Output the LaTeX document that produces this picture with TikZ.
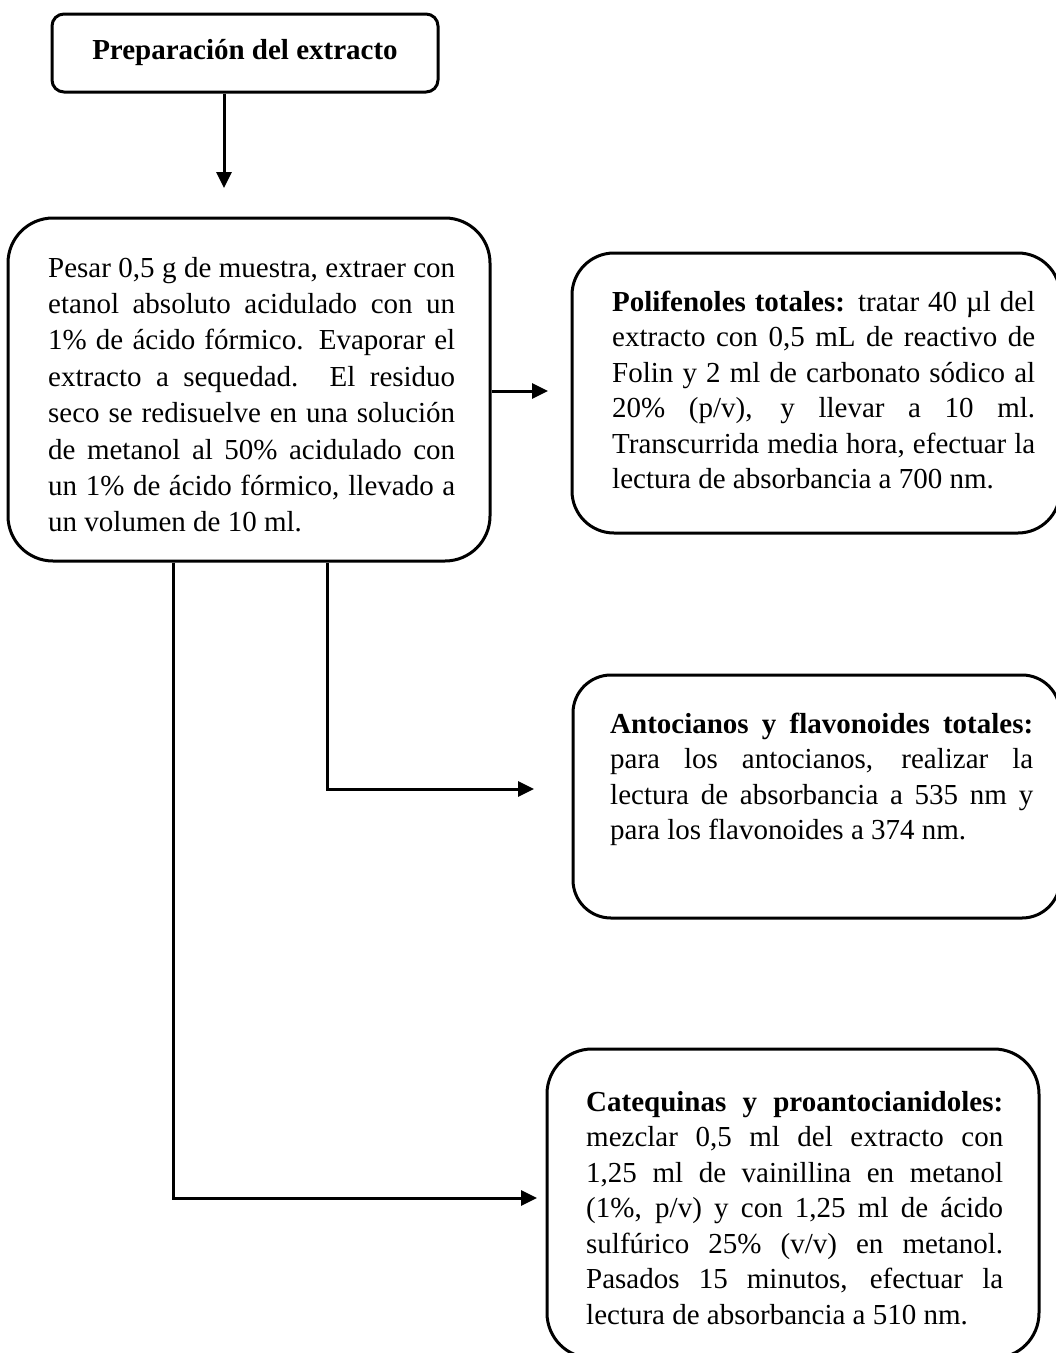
\documentclass[tikz,border=0pt]{standalone}
\usepackage{fontspec}
\setmainfont{Liberation Serif}
\usetikzlibrary{arrows.meta}
\begin{document}
\begin{tikzpicture}[x=1pt,y=-1pt,
  box/.style={draw, line width=3pt, inner sep=0pt},
  txt/.style={inner sep=0pt, align=justify, anchor=base west, font=\fontsize{29}{35.5}\selectfont},
  arr/.style={line width=3pt, -{Triangle[length=16pt,width=15pt]}}]
\useasboundingbox (0,0) rectangle (1056,1353);

% boxes
\node[box, rounded corners=12pt, minimum width=386pt, minimum height=78pt,
      font=\fontsize{29}{35.5}\selectfont\bfseries] (top) at (245,53) {Preparación del extracto};
\node[box, rounded corners=45pt, minimum width=482pt, minimum height=343pt] (main) at (249,389.5) {};
\node[box, rounded corners=42pt, minimum width=488pt, minimum height=280pt] (poli) at (816,393) {};
\node[box, rounded corners=38pt, minimum width=487pt, minimum height=243pt] (anto) at (816.5,796.5) {};
\node[box, rounded corners=45pt, minimum width=492pt, minimum height=309pt] (cate) at (793,1203.5) {};

% texts
\node[txt, text width=407pt, font=\fontsize{29}{36.4}\selectfont] (tmain) at (48,277) {Pesar 0,5 g de muestra, extraer con\linebreak
etanol absoluto acidulado con un\linebreak
1\% de ácido fórmico. Evaporar el\linebreak
extracto a sequedad. El residuo\linebreak
seco se redisuelve en una solución\linebreak
de metanol al 50\% acidulado con\linebreak
un 1\% de ácido fórmico, llevado a\linebreak
un volumen de 10 ml.};

\node[txt, text width=423pt] (tpoli) at (612,311) {\textbf{Polifenoles totales:} tratar 40 µl del\linebreak
extracto con 0,5 mL de reactivo de\linebreak
Folin y 2 ml de carbonato sódico al\linebreak
20\% (p/v), y llevar a 10 ml.\linebreak
Transcurrida media hora, efectuar la\linebreak
lectura de absorbancia a 700 nm.};

\node[txt, text width=423pt] (tanto) at (610,733) {\textbf{Antocianos y flavonoides totales:}\linebreak
para los antocianos, realizar la\linebreak
lectura de absorbancia a 535 nm y\linebreak
para los flavonoides a 374 nm.};

\node[txt, text width=417pt] (tcate) at (586,1111) {\textbf{Catequinas y proantocianidoles:}\linebreak
mezclar 0,5 ml del extracto con\linebreak
1,25 ml de vainillina en metanol\linebreak
(1\%, p/v) y con 1,25 ml de ácido\linebreak
sulfúrico 25\% (v/v) en metanol.\linebreak
Pasados 15 minutos, efectuar la\linebreak
lectura de absorbancia a 510 nm.};

% connectors
\coordinate (a1) at (224,188);
\coordinate (a2) at (548,391);
\coordinate (c3) at (327,789);
\coordinate (a3) at (534,789);
\coordinate (c4) at (173,1198);
\coordinate (a4) at (537,1198);

\draw[arr] (a1 |- top.south) -- (a1);
\draw[arr] (a2 -| main.east) -- (a2);
\draw[arr] (c3 |- main.south) -- (c3) -- (a3);
\draw[arr] (c4 |- main.south) -- (c4) -- (a4);
\end{tikzpicture}
\end{document}
